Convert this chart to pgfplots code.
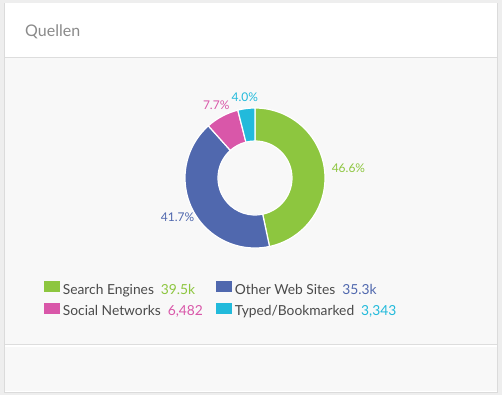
\documentclass[border=0pt]{standalone}
\usepackage{pgfplots}
\pgfplotsset{compat=1.18}
\usepackage{pgfplotstable}
\usetikzlibrary{calc}
\usepackage{fontspec}
\setmainfont{Lato}
\definecolor{cSE}{HTML}{8DC63F}
\definecolor{cOW}{HTML}{5068AE}
\definecolor{cSN}{HTML}{D957A9}
\definecolor{cTB}{HTML}{22BADB}
\definecolor{txt}{HTML}{4A4A4A}
\definecolor{ttl}{HTML}{8A8A8A}
\definecolor{bgout}{HTML}{EEEEEE}
\definecolor{body}{HTML}{F8F8F8}
\definecolor{rule}{HTML}{DDDDDD}

\pgfplotstableread{
name value pct
SE 39500 46.6
OW 35300 41.7
SN 6482 7.7
TB 3343 4.0
}\data

\pgfplotstablegetelem{0}{value}\of\data \let\vA\pgfplotsretval
\pgfplotstablegetelem{1}{value}\of\data \let\vB\pgfplotsretval
\pgfplotstablegetelem{2}{value}\of\data \let\vC\pgfplotsretval
\pgfplotstablegetelem{3}{value}\of\data \let\vD\pgfplotsretval
\pgfplotstablegetelem{0}{pct}\of\data \let\pA\pgfplotsretval
\pgfplotstablegetelem{1}{pct}\of\data \let\pB\pgfplotsretval
\pgfplotstablegetelem{2}{pct}\of\data \let\pC\pgfplotsretval
\pgfplotstablegetelem{3}{pct}\of\data \let\pD\pgfplotsretval
\edef\tot{\fpeval{\vA+\vB+\vC+\vD}}
\edef\aA{90}
\edef\aB{\fpeval{round(\aA-360*\vA/\tot,3)}}
\edef\aC{\fpeval{round(\aB-360*\vB/\tot,3)}}
\edef\aD{\fpeval{round(\aC-360*\vC/\tot,3)}}
\edef\aE{\fpeval{round(\aD-360*\vD/\tot,3)}}

\tikzset{plabel/.style={font=\fontsize{12bp}{14bp}\selectfont, inner sep=1bp}}
\pgfplotsset{legsq/.style={legend image code/.code={\fill[#1] (0bp,-1.5bp) rectangle (15bp,8.5bp); \path (16.5bp,0bp);}}}
\newcommand\slice[3]{% start, end, color
  \fill[#3, draw=white, line width=1.2bp]
    (axis cs:0,0) ++(#1:70bp) arc[start angle=#1, end angle=#2, radius=70bp]
    -- ($(axis cs:0,0)+(#2:37bp)$) arc[start angle=#2, end angle=#1, radius=37bp] -- cycle;
}
\newcommand\plabel[5]{% start, end, color, text, radius
  \edef\mid{\fpeval{round((#1+#2)/2,3)}}%
  \edef\anc{\fpeval{round(\mid+180,2)}}%
  \edef\tmp{\noexpand\node[plabel, text=#3, anchor=\anc]
    at ($(axis cs:0,0)+(\mid:#5)$) {#4\noexpand\%};}%
  \tmp
}

\begin{document}
\begin{tikzpicture}
\fill[bgout] (0,0) rectangle (502bp,395bp);
\fill[black!14] (4bp,2bp) rectangle (498bp,392bp);
\fill[white] (5bp,3bp) rectangle (497bp,392bp);
\fill[body] (5bp,50bp) rectangle (497bp,337bp);
\draw[rule, line width=1bp] (5bp,337bp) -- (497bp,337bp);
\fill[body] (5bp,4bp) rectangle (497bp,48bp);
\draw[rule, line width=1bp] (5bp,50bp) -- (497bp,50bp);
\node[anchor=base west, text=ttl, font=\fontsize{16bp}{18bp}\selectfont, inner sep=0pt] at (25bp,358bp) {Quellen};

\begin{axis}[hide axis, scale only axis, width=140bp, height=140bp,
  xmin=-1, xmax=1, ymin=-1, ymax=1, clip=false,
  at={(255bp,217bp)}, anchor=center,
  legend columns=2,
  legend cell align=left,
  legend style={draw=none, fill=none, at={(axis description cs:-1.03,-0.22)}, anchor=north west,
    font=\fontsize{13.8bp}{15bp}\selectfont, text=txt, row sep=5bp,
    /tikz/every even column/.append style={column sep=11bp}},
  ]
\slice{\aA}{\aB}{cSE}
\slice{\aB}{\aC}{cOW}
\slice{\aC}{\aD}{cSN}
\slice{\aD}{\aE}{cTB}
\plabel{\aA}{\aB}{cSE}{\pA}{76bp}
\plabel{\aB}{\aC}{cOW}{\pB}{74bp}
\plabel{\aC}{\aD}{cSN}{\pC}{76bp}
\plabel{\aD}{\aE}{cTB}{\pD}{76bp}
\addlegendimage{legsq=cSE}
\addlegendentry{Search Engines\hspace{7bp}\textcolor{cSE}{39.5k}}
\addlegendimage{legsq=cOW}
\addlegendentry{Other Web Sites\hspace{7bp}\textcolor{cOW}{35.3k}}
\addlegendimage{legsq=cSN}
\addlegendentry{Social Networks\hspace{7bp}\textcolor{cSN}{6,482}}
\addlegendimage{legsq=cTB}
\addlegendentry{Typed/Bookmarked\hspace{7bp}\textcolor{cTB}{3,343}}
\end{axis}
\end{tikzpicture}
\end{document}
